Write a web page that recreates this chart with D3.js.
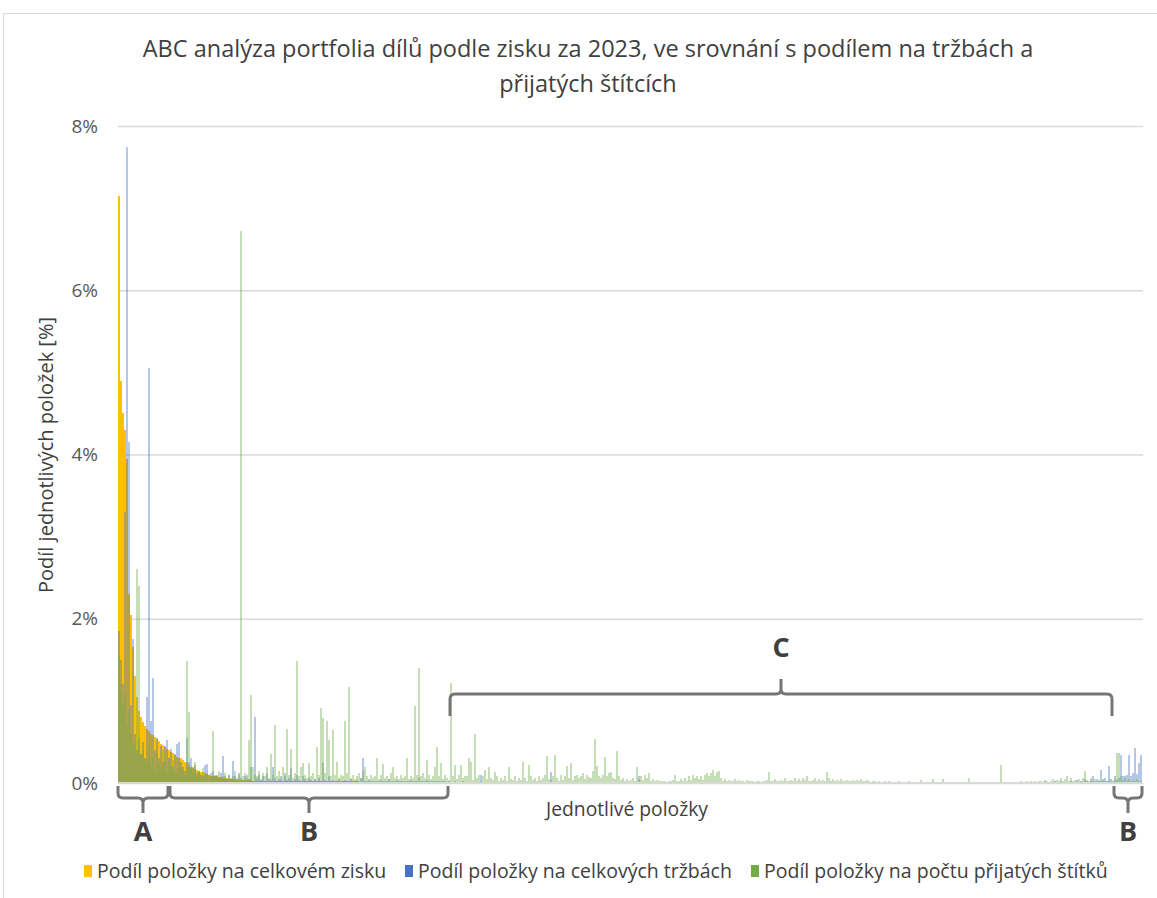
<!DOCTYPE html>
<html lang="cs">
<head>
<meta charset="utf-8">
<title>ABC analýza portfolia dílů</title>
<script src="https://cdn.jsdelivr.net/npm/d3@7"></script>
<style>
  body { margin: 0; background: #fff; }
  text { font-family: "Open Sans", "Liberation Sans", Arial, sans-serif; }
</style>
</head>
<body>
<svg id="chart" width="1157" height="898"></svg>
<script>
// 1. Data - podíly v setinách procenta (0.01 %), položky seřazené podle zisku
var zisk = [
  715,490,450,430,395,230,205,165,130,105,88,80,74,70,66,63,
  60,58,56,54,51,48,46,44,42,40,38,36,34,32,31,30,
  28,26,24,22,20,19,17,16,15,14,13,12,11,10,9,9,
  8,8,7,7,6,6,6,5,5,5,5,4,4,4,4,4,
  4,4,4,3,3,3,3,3,3,3,3,3,3,3,3,3,
  3,3,3,3,3,3,2,2,2,2,2,2,2,2,2,2,
  2,2,2,2,2,2,2,2,2,2,2,2,2,2,2,2,
  2,2,2,2,2,2,2,2,1,1,1,1,1,1,1,1,
  1,1,1,1,1,1,1,1,1,1,1,1,1,1,1,1,
  1,1,1,1,1,1,1,1,1,1,1,1,1,1,1,1,
  1,1,1,1,1,1,0,0,0,0,0,0,0,0,0,0,
  0,0,0,0,0,0,0,0,0,0,0,0,0,0,0,0,
  0,0,0,0,0,0,0,0,0,0,0,0,0,0,0,0,
  0,0,0,0,0,0,0,0,0,0,0,0,0,0,0,0,
  0,0,0,0,0,0,0,0,0,0,0,0,0,0,0,0,
  0,0,0,0,0,0,0,0,0,0,0,0,0,0,0,0,
  0,0,0,0,0,0,0,0,0,0,0,0,0,0,0,0,
  0,0,0,0,0,0,0,0,0,0,0,0,0,0,0,0,
  0,0,0,0,0,0,0,0,0,0,0,0,0,0,0,0,
  0,0,0,0,0,0,0,0,0,0,0,0,0,0,0,0,
  0,0,0,0,0,0,0,0,0,0,0,0,0,0,0,0,
  0,0,0,0,0,0,0,0,0,0,0,0,0,0,0,0,
  0,0,0,0,0,0,0,0,0,0,0,0,0,0,0,0,
  0,0,0,0,0,0,0,0,0,0,0,0,0,0,0,0,
  0,0,0,0,0,0,0,0,0,0,0,0,0,0,0,0,
  0,0,0,0,0,0,0,0,0,0,0,0,0,0,0,0,
  0,0,0,0,0,0,0,0,0,0,0,0,0,0,0,0,
  0,0,0,0,0,0,0,0,0,0,0,0,0,0,0,0,
  0,0,0,0,0,0,0,0,0,0,0,0,0,0,0,0,
  0,0,0,0,0,0,0,0,0,0,0,0,0,0,0,0,
  0,0,0,0,0,0,0,0,0,0,0,0,0,0,0,0,
  0,0,0,0,0,0,0,0,0,0,0,0,0,0,0,0
];
var trzby = [
  185,150,120,330,775,415,95,175,60,40,55,35,50,30,105,505,
  75,128,40,55,30,45,25,45,52,30,42,20,35,48,50,25,
  20,15,55,25,30,18,22,12,15,10,8,22,23,10,12,15,
  8,10,6,12,33,8,5,10,6,27,8,5,12,6,4,8,
  10,5,20,3,80,6,10,4,8,3,12,5,4,20,6,3,
  5,8,3,12,4,6,18,3,5,10,4,3,8,5,3,6,
  4,3,5,2,6,3,24,4,3,8,2,4,3,2,5,3,
  2,4,3,2,5,3,2,4,3,6,30,3,2,4,3,2,
  2,3,2,4,2,3,2,5,2,3,2,4,2,3,2,2,
  3,2,4,2,3,2,6,2,3,2,4,2,3,2,2,3,
  2,3,2,2,1,2,1,1,2,1,1,1,2,1,1,1,
  1,0,1,0,1,10,0,1,0,1,0,1,0,0,1,0,
  0,1,0,1,0,0,1,0,1,0,0,1,0,1,0,0,
  1,0,0,1,0,0,1,0,13,0,1,0,0,1,0,0,
  0,1,0,0,1,0,0,1,0,0,1,0,0,1,0,0,
  0,1,0,0,1,0,0,0,1,0,0,1,0,0,0,1,
  0,0,0,0,8,0,0,0,1,0,0,0,1,0,0,0,
  0,0,1,0,0,0,0,0,0,1,0,0,0,0,0,0,
  0,0,0,0,0,1,0,0,0,0,0,0,0,1,0,0,
  0,1,0,0,0,0,0,0,0,0,1,0,0,0,0,0,
  0,0,0,0,0,0,0,0,0,0,0,0,0,0,0,0,
  0,0,0,0,0,0,1,0,0,0,0,0,0,0,0,0,
  0,0,0,0,0,0,0,0,0,0,0,0,0,0,0,0,
  0,0,0,0,0,0,0,0,0,0,0,0,1,0,0,0,
  0,0,0,0,0,0,0,0,0,0,0,0,0,0,0,0,
  0,0,0,0,0,0,0,0,0,0,1,0,0,0,0,0,
  0,0,0,0,0,0,0,0,0,0,0,0,0,0,0,0,
  0,0,0,0,0,0,0,0,0,0,0,0,0,0,0,0,
  0,0,0,0,0,0,0,0,0,0,0,0,1,0,0,2,
  0,1,0,0,2,0,0,3,0,0,1,0,2,0,0,4,
  0,3,0,5,2,0,4,8,2,5,3,16,4,6,3,21,
  5,3,8,4,6,34,9,8,10,34,9,12,43,11,24,34
];
var stitky = [
  155,120,95,110,70,90,60,45,50,260,240,35,40,30,25,45,
  20,30,15,35,22,18,40,25,15,30,20,28,15,12,25,18,
  15,10,148,87,20,12,25,8,15,10,18,6,12,5,8,63,
  10,6,15,5,8,12,4,10,5,8,15,6,10,672,8,12,
  6,52,107,20,10,8,15,5,12,8,20,6,35,10,71,8,
  15,5,20,8,66,10,42,6,12,148,8,20,24,10,6,24,
  8,12,5,44,10,91,79,12,75,52,8,65,10,26,6,10,
  8,75,12,117,6,10,5,8,12,6,15,20,8,5,10,6,
  8,30,5,10,23,6,8,5,12,19,6,8,5,10,6,8,
  30,5,8,6,94,10,140,8,12,6,28,10,5,8,19,44,
  8,24,5,10,6,4,122,8,22,5,10,22,6,8,8,30,
  26,4,60,6,10,3,8,16,5,20,6,4,14,8,3,6,
  4,8,3,19,5,4,8,3,6,4,25,6,3,22,8,4,
  6,3,8,4,6,10,33,5,4,8,34,6,3,10,4,8,
  21,6,24,4,8,10,6,8,12,5,10,7,6,15,54,21,
  8,6,10,32,8,12,13,6,5,39,8,4,6,3,5,2,
  4,6,3,19,5,8,4,10,6,12,3,5,2,4,3,2,
  3,2,0,3,2,4,10,3,2,5,3,6,3,8,4,10,
  6,8,5,9,4,10,12,8,12,16,8,14,15,6,3,5,
  2,4,3,2,5,3,4,2,3,0,4,2,3,2,0,3,
  2,0,3,2,4,13,3,2,5,3,2,4,3,6,2,3,
  4,2,6,3,5,2,6,4,8,3,2,4,6,3,5,2,
  4,3,14,6,3,5,2,4,3,5,2,3,4,2,3,4,
  2,4,3,5,2,3,4,2,0,3,2,0,2,0,0,2,
  0,2,0,0,0,0,2,0,0,0,0,2,0,0,0,0,
  0,4,0,0,0,0,0,5,0,0,0,0,5,0,0,0,
  0,0,0,0,0,0,0,0,0,6,0,0,0,0,0,0,
  0,0,0,0,0,0,0,0,0,22,0,0,0,0,0,0,
  0,0,0,3,0,0,2,0,2,0,3,0,2,3,0,4,
  2,0,3,5,2,4,3,6,2,5,9,3,6,2,4,3,
  5,3,6,15,4,3,6,2,5,3,4,2,5,3,2,4,
  2,3,5,37,36,8,4,6,3,5,2,4,3,5,2,3
];
var yTicks = [0, 0.02, 0.04, 0.06, 0.08];
var serieNazvy = ["Podíl položky na celkovém zisku", "Podíl položky na celkových tržbách", "Podíl položky na počtu přijatých štítků"];
var serieBarvy = ["#FFC000", "#4472C4", "#70AD47"];
// skupiny ABC - rozsah položek (index od/do)
var skupinyNazvy = ["A", "B", "C", "B"];
var skupinyOd = [0, 26, 166, 498];
var skupinyDo = [24, 164, 496, 511];

// 2. Chart
var svg = d3.select("#chart");
var plotLeft = 118, plotRight = 1143, plotBottom = 783, plotTop = 126;

svg.append("rect")
  .attr("x", 3.5).attr("y", 13.5)
  .attr("width", 1165).attr("height", 895)
  .attr("fill", "none").attr("stroke", "#d9d9d9");

var x = d3.scaleBand().domain(d3.range(zisk.length)).range([plotLeft, plotLeft + 2 * zisk.length]);
var y = d3.scaleLinear().domain([0, 0.08]).range([plotBottom, plotTop]);

// mřížka + popisky osy y
var gy = svg.append("g")
  .attr("transform", "translate(" + plotLeft + ",0)")
  .call(d3.axisLeft(y).tickValues(yTicks).tickFormat(d3.format(".0%"))
    .tickSize(-(plotRight - plotLeft)).tickPadding(20));
gy.select(".domain").remove();
gy.selectAll("line").attr("stroke", "#d9d9d9").attr("stroke-width", 1.5);
gy.selectAll("text")
  .attr("fill", "#595959")
  .style("font-size", "19px")
  .style("font-family", "'Open Sans', 'Liberation Sans', Arial, sans-serif");

// 3. Sloupce - zisk vzadu, tržby a štítky průhledně přes něj
function sloupce(data, barva, pruhlednost) {
  svg.append("g").selectAll("rect")
    .data(data)
    .join("rect")
    .attr("x", (d, i) => x(i))
    .attr("width", x.bandwidth())
    .attr("y", d => y(d / 10000))
    .attr("height", d => y(0) - y(d / 10000))
    .attr("fill", barva)
    .attr("fill-opacity", pruhlednost)
    .attr("shape-rendering", "crispEdges");
}
sloupce(zisk, serieBarvy[0], 1);
sloupce(trzby, serieBarvy[1], 0.4);
sloupce(stitky, serieBarvy[2], 0.4);

svg.append("line")
  .attr("x1", plotLeft).attr("x2", plotRight)
  .attr("y1", y(0)).attr("y2", y(0))
  .attr("stroke", "#d9d9d9").attr("stroke-width", 2);

// 4. Závorky skupin ABC
function zavorka(x0, x1, y0, y1, y2) {
  var r = 5, s = y1 > y0 ? 1 : -1, xm = (x0 + x1) / 2;
  return "M" + x0 + "," + y0 +
    "L" + x0 + "," + (y1 - r * s) +
    "Q" + x0 + "," + y1 + "," + (x0 + r) + "," + y1 +
    "L" + (xm - r) + "," + y1 +
    "Q" + xm + "," + y1 + "," + xm + "," + (y1 + r * s) +
    "L" + xm + "," + y2 +
    "M" + xm + "," + (y1 + r * s) +
    "Q" + xm + "," + y1 + "," + (xm + r) + "," + y1 +
    "L" + (x1 - r) + "," + y1 +
    "Q" + x1 + "," + y1 + "," + x1 + "," + (y1 - r * s) +
    "L" + x1 + "," + y0;
}
skupinyNazvy.forEach(function (nazev, k) {
  var x0 = x(skupinyOd[k]), x1 = x(skupinyDo[k]) + x.bandwidth();
  var nahore = nazev == "C";
  var y0 = nahore ? 716 : 786, y1 = nahore ? 694 : 798, y2 = nahore ? 679 : 813;
  svg.append("path")
    .attr("d", zavorka(x0, x1, y0, y1, y2))
    .attr("fill", "none")
    .attr("stroke", "#767676")
    .attr("stroke-width", 3);
  svg.append("text")
    .attr("x", (x0 + x1) / 2)
    .attr("y", nahore ? 657 : 841)
    .attr("text-anchor", "middle")
    .attr("fill", "#404040")
    .style("font-size", "27px")
    .style("font-weight", "bold")
    .text(nazev);
});

// 5. Titulky
var titulek = svg.append("text")
  .attr("text-anchor", "middle")
  .attr("fill", "#404040")
  .style("font-size", "23.5px");
titulek.append("tspan").attr("x", 588).attr("y", 57)
  .text("ABC analýza portfolia dílů podle zisku za 2023, ve srovnání s podílem na tržbách a");
titulek.append("tspan").attr("x", 588).attr("y", 92).text("přijatých štítcích");

svg.append("text")
  .attr("x", 627).attr("y", 816)
  .attr("text-anchor", "middle")
  .attr("fill", "#404040")
  .style("font-size", "19.3px")
  .text("Jednotlivé položky");

svg.append("text")
  .attr("transform", "translate(53,455) rotate(-90)")
  .attr("text-anchor", "middle")
  .attr("fill", "#404040")
  .style("font-size", "20px")
  .text("Podíl jednotlivých položek [%]");

// 6. Legenda
var legX = [84, 405, 751];
serieNazvy.forEach(function (nazev, k) {
  svg.append("rect")
    .attr("x", legX[k]).attr("y", 865)
    .attr("width", 8).attr("height", 12)
    .attr("fill", serieBarvy[k]);
  svg.append("text")
    .attr("x", legX[k] + 13).attr("y", 878)
    .attr("fill", "#404040")
    .style("font-size", "19.5px")
    .text(nazev);
});
</script>
</body>
</html>
